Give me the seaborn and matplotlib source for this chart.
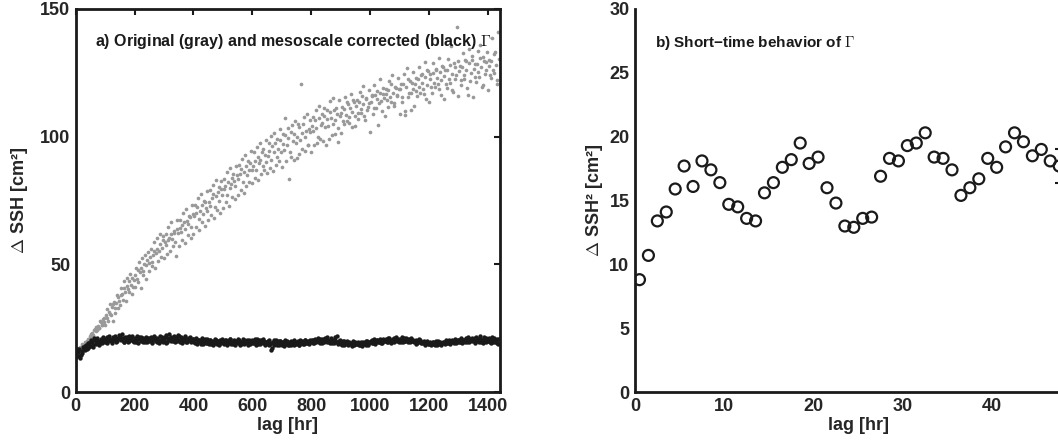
import numpy as np
import pandas as pd
import matplotlib
matplotlib.use('Agg')
from matplotlib import pyplot as plt
import seaborn as sns

# panel a: structure function at two offset lag grids
lag_long_a = np.arange(0, 1440, 5)
lag_long_b = np.arange(2.5, 1440, 5)

gamma_original_a = [
    14.5, 16.0, 16.2, 17.5, 17.0, 18.6, 19.5, 18.8, 20.6, 20.2,
    21.0, 23.2, 22.4, 24.8, 23.9, 26.0, 25.1, 27.3, 26.4, 28.9,
    26.2, 32.4, 28.0, 34.6, 30.1, 27.9, 35.2, 31.0, 37.8, 33.0,
    34.0, 40.8, 36.2, 43.5, 35.8, 44.6, 39.0, 46.2, 38.4, 41.0,
    41.0, 48.6, 43.2, 50.8, 40.6, 52.5, 46.0, 53.6, 44.3, 54.9,
    47.2, 55.9, 49.5, 58.8, 48.6, 60.4, 51.4, 62.0, 53.0, 59.6,
    52.6, 61.8, 54.0, 64.5, 55.2, 66.4, 57.0, 63.2, 53.4, 67.3,
    57.0, 67.4, 59.6, 70.2, 58.3, 71.8, 61.5, 69.0, 60.2, 73.4,
    61.8, 73.2, 64.6, 76.0, 63.5, 77.4, 66.6, 74.8, 65.0, 78.6,
    67.2, 79.0, 69.4, 81.2, 68.0, 83.0, 71.4, 80.4, 70.0, 82.6,
    72.2, 83.6, 74.5, 86.0, 73.0, 87.8, 76.4, 85.2, 75.6, 88.4,
    77.0, 89.0, 79.2, 91.4, 78.0, 93.0, 80.8, 90.4, 82.2, 94.2,
    82.0, 93.8, 84.0, 96.0, 83.2, 97.6, 85.4, 95.0, 86.8, 98.6,
    85.6, 97.5, 87.8, 100.2, 86.4, 101.6, 89.0, 99.0, 90.4, 103.0,
    88.0, 101.0, 107.5, 90.6, 103.4, 83.5, 92.2, 104.6, 91.0, 106.0,
    91.6, 104.8, 93.4, 120.5, 95.0, 107.6, 94.2, 109.0, 96.6, 106.5,
    94.0, 107.8, 96.8, 110.3, 97.4, 112.2, 99.0, 108.9, 98.2, 111.1,
    96.6, 110.6, 99.0, 113.8, 100.5, 115.0, 101.2, 111.4, 97.8, 114.4,
    101.5, 111.5, 104.8, 115.6, 106.3, 112.9, 107.6, 116.8, 103.9, 113.6,
    104.2, 114.3, 107.0, 117.5, 109.3, 119.8, 108.1, 115.0, 110.6, 118.2,
    101.8, 116.5, 108.9, 120.2, 111.4, 117.8, 113.0, 122.6, 110.2, 119.0,
    108.0, 118.6, 111.6, 121.9, 113.5, 124.0, 112.2, 119.4, 115.8, 122.8,
    109.0, 120.5, 113.4, 124.6, 110.0, 126.8, 115.6, 121.9, 117.0, 125.2,
    112.0, 122.8, 115.9, 127.4, 117.2, 124.5, 118.6, 129.2, 114.8, 126.0,
    113.5, 124.6, 117.0, 129.0, 119.4, 126.3, 120.8, 131.0, 116.4, 127.7,
    114.8, 126.0, 119.2, 130.5, 121.0, 135.6, 118.4, 128.9, 122.6, 143.0,
    116.0, 127.8, 120.4, 132.8, 122.5, 129.6, 118.9, 134.4, 121.8, 130.2,
    115.5, 128.4, 121.6, 133.6, 123.2, 136.0, 119.5, 131.2, 124.6, 129.4,
    118.4, 130.0, 122.8, 138.5, 124.9, 133.2, 120.6, 141.0,
]

gamma_original_b = [
    15.8, 15.1, 17.2, 16.4, 18.9, 17.8, 18.2, 20.1, 19.4, 21.8,
    22.6, 21.9, 24.1, 25.6, 24.4, 25.0, 27.8, 26.2, 28.4, 27.6,
    30.2, 29.0, 31.4, 30.6, 33.2, 34.5, 33.0, 34.8, 37.2, 35.5,
    37.9, 38.4, 40.6, 39.2, 41.5, 40.2, 43.4, 42.0, 44.6, 43.8,
    45.8, 44.2, 47.6, 46.9, 48.5, 47.3, 50.2, 49.6, 51.8, 50.4,
    52.8, 51.0, 53.5, 55.4, 54.6, 56.0, 55.2, 57.8, 56.5, 61.0,
    58.9, 57.6, 59.5, 60.4, 61.8, 60.0, 62.4, 58.8, 63.7, 62.1,
    64.2, 62.8, 65.4, 66.5, 63.9, 67.1, 65.9, 68.4, 64.8, 69.6,
    68.8, 70.2, 72.5, 67.6, 71.0, 73.2, 69.9, 74.6, 72.0, 70.8,
    74.5, 73.0, 75.8, 77.4, 72.6, 76.6, 78.2, 74.9, 79.6, 77.0,
    79.4, 80.8, 77.2, 82.4, 79.9, 81.5, 84.0, 82.8, 80.6, 84.9,
    83.6, 85.2, 87.4, 82.4, 86.0, 88.6, 84.8, 87.0, 89.8, 86.8,
    88.4, 90.6, 86.9, 92.2, 89.5, 91.0, 94.0, 88.6, 92.8, 90.2,
    92.6, 94.4, 90.8, 96.5, 93.8, 97.4, 92.0, 95.2, 98.6, 94.0,
    97.2, 94.6, 100.5, 96.8, 99.4, 93.8, 102.0, 98.4, 100.9, 97.5,
    99.8, 103.6, 98.5, 101.4, 104.8, 100.0, 102.4, 96.8, 103.0, 101.8,
    104.0, 102.2, 106.6, 103.5, 99.8, 107.4, 104.6, 105.2, 108.2, 103.8,
    106.8, 104.2, 109.5, 107.2, 105.0, 110.6, 106.4, 108.8, 103.5, 107.9,
    109.2, 106.0, 110.8, 108.4, 113.4, 105.4, 111.2, 109.6, 114.5, 108.0,
    112.0, 109.4, 113.6, 110.8, 116.0, 112.6, 106.5, 114.8, 111.8, 113.2,
    113.6, 115.8, 111.2, 116.4, 114.6, 104.5, 117.0, 113.9, 116.8, 115.2,
    116.6, 114.2, 118.2, 115.4, 120.6, 117.0, 113.0, 119.2, 116.4, 118.8,
    118.6, 115.5, 120.8, 108.6, 119.4, 122.4, 117.2, 110.4, 121.0, 118.8,
    120.6, 117.8, 122.4, 119.6, 124.2, 121.0, 116.8, 123.4, 120.2, 125.6,
    122.4, 119.6, 124.8, 121.2, 126.6, 123.0, 118.6, 125.2, 122.0, 127.4,
    123.8, 120.5, 126.2, 122.6, 128.0, 124.6, 117.6, 127.2, 124.0, 129.6,
    125.6, 122.2, 127.4, 124.0, 130.0, 126.2, 116.5, 128.8, 125.0, 131.6,
    126.6, 123.4, 128.6, 125.2, 131.0, 127.4, 120.4, 129.8, 126.2, 133.0,
    127.6, 124.2, 129.6, 126.0, 132.4, 128.2, 122.0, 130.6,
]

gamma_corrected_a = [
    15.2, 16.8, 14.1, 13.4, 16.0, 17.6, 16.5, 18.4, 17.2, 19.0,
    18.1, 19.6, 17.5, 20.2, 18.8, 19.9, 18.6, 20.8, 19.4, 20.5,
    19.6, 21.4, 20.1, 20.9, 19.8, 21.7, 20.4, 21.1, 19.9, 20.8,
    21.9, 20.2, 21.3, 19.7, 20.9, 21.5, 20.0, 21.2, 20.5, 19.8,
    21.0, 19.6, 20.7, 21.4, 19.9, 20.3, 21.1, 19.5, 20.6, 21.3,
    20.0, 21.6, 19.7, 20.8, 21.2, 19.6, 20.4, 21.8, 19.9, 20.7,
    20.5, 22.3, 19.6, 21.1, 20.2, 21.7, 19.8, 20.9, 21.5, 20.1,
    21.9, 19.7, 20.8, 20.1, 21.4, 19.5, 20.6, 21.0, 19.4, 20.3,
    20.7, 19.2, 21.0, 19.8, 20.4, 18.9, 20.1, 19.5, 20.6, 19.0,
    19.7, 20.5, 18.8, 19.9, 19.3, 20.4, 18.9, 19.6, 20.2, 19.1,
    19.8, 18.7, 20.3, 19.4, 19.0, 20.6, 19.2, 18.8, 20.0, 19.5,
    19.1, 20.4, 18.9, 19.7, 20.2, 19.0, 19.9, 18.6, 20.5, 19.3,
    20.1, 19.0, 19.6, 20.6, 18.8, 19.8, 20.3, 19.2, 19.9, 18.7,
    19.5, 20.2, 18.9, 16.6, 19.7, 18.5, 20.4, 19.1, 18.6, 19.8,
    18.4, 19.6, 20.3, 18.7, 19.2, 18.5, 19.9, 19.0, 18.3, 19.5,
    19.1, 20.0, 18.6, 19.4, 19.8, 18.9, 20.2, 19.3, 19.7, 20.4,
    19.6, 20.5, 19.2, 20.1, 19.9, 20.6, 19.3, 20.2, 20.8, 19.7,
    20.3, 21.6, 19.5, 20.0, 19.2, 20.4, 21.4, 19.4, 18.9, 19.9,
    19.3, 18.6, 19.8, 18.9, 19.5, 18.4, 19.6, 18.8, 19.1, 18.5,
    19.4, 18.7, 19.0, 18.3, 19.6, 18.9, 19.2, 18.6, 19.8, 19.3,
    19.6, 20.3, 19.1, 20.0, 19.4, 20.5, 19.7, 20.2, 19.3, 20.6,
    20.1, 20.8, 19.6, 21.0, 20.3, 19.8, 21.2, 20.4, 19.9, 20.7,
    20.9, 19.7, 20.5, 21.1, 19.9, 20.6, 20.2, 19.5, 20.8, 20.0,
    19.6, 20.4, 19.2, 19.9, 20.3, 19.0, 19.7, 18.8, 19.5, 19.1,
    18.7, 19.4, 18.9, 19.6, 18.5, 19.2, 19.8, 18.8, 19.3, 19.0,
    19.5, 18.9, 19.9, 19.3, 20.1, 19.6, 20.4, 19.2, 20.0, 19.7,
    20.3, 19.5, 20.8, 19.9, 20.5, 21.3, 19.4, 20.1, 20.9, 19.8,
    20.6, 19.3, 21.5, 20.2, 19.6, 21.0, 20.4, 19.1, 20.7, 21.2,
    19.8, 20.9, 19.2, 21.4, 20.1, 19.5, 20.6, 18.9,
]

gamma_corrected_b = [
    13.9, 15.6, 17.0, 14.6, 15.4, 16.9, 18.2, 17.0, 19.3, 18.0,
    20.4, 18.6, 21.0, 19.2, 21.3, 18.9, 20.1, 19.0, 21.5, 20.0,
    20.6, 19.1, 22.0, 20.3, 19.3, 20.9, 21.9, 19.5, 21.3, 22.2,
    20.7, 22.8, 19.4, 21.6, 20.4, 19.5, 22.1, 20.6, 21.8, 19.6,
    20.4, 21.9, 19.2, 20.9, 21.7, 19.4, 20.8, 21.6, 19.7, 20.2,
    21.3, 19.3, 20.6, 22.0, 19.8, 21.0, 19.2, 20.5, 21.7, 19.5,
    21.6, 19.3, 20.7, 22.6, 19.9, 20.6, 21.9, 19.4, 20.8, 22.4,
    20.2, 21.6, 19.1, 20.9, 22.0, 19.6, 20.4, 21.5, 19.8, 20.9,
    19.4, 20.9, 18.7, 20.5, 19.6, 21.2, 18.8, 20.3, 19.3, 20.8,
    18.9, 20.2, 19.5, 18.5, 20.7, 19.2, 20.0, 18.6, 19.7, 20.6,
    19.2, 20.4, 18.4, 19.8, 20.9, 18.9, 19.6, 20.3, 18.6, 19.9,
    20.6, 18.6, 19.5, 20.8, 18.7, 19.6, 20.4, 19.1, 18.8, 20.2,
    19.3, 20.8, 18.5, 19.5, 20.4, 18.9, 19.6, 20.7, 18.4, 19.4,
    20.1, 18.5, 19.3, 17.2, 20.3, 19.2, 18.3, 19.8, 20.1, 18.7,
    19.5, 18.1, 19.1, 20.0, 18.3, 19.6, 18.6, 19.4, 20.2, 18.8,
    19.6, 18.5, 20.5, 19.0, 18.7, 20.3, 19.1, 19.9, 18.8, 20.1,
    20.2, 19.0, 20.8, 19.5, 21.0, 19.4, 20.6, 19.1, 20.0, 21.1,
    19.6, 20.4, 19.0, 21.3, 19.8, 19.1, 20.3, 21.9, 19.6, 20.4,
    18.8, 19.9, 18.3, 19.4, 20.1, 18.7, 19.2, 18.2, 19.8, 19.0,
    18.9, 19.7, 18.4, 19.2, 18.1, 19.5, 18.7, 19.9, 18.5, 19.6,
    20.0, 19.2, 20.6, 18.9, 20.3, 19.5, 20.9, 19.0, 20.4, 19.8,
    20.5, 19.4, 21.3, 20.0, 19.3, 20.9, 19.7, 21.4, 20.2, 19.6,
    20.3, 21.4, 19.6, 20.1, 21.0, 19.4, 20.7, 21.2, 19.8, 20.4,
    20.1, 18.9, 19.6, 20.6, 19.0, 19.4, 20.1, 18.6, 19.8, 18.9,
    19.2, 18.4, 19.7, 18.7, 19.9, 18.6, 19.1, 19.5, 18.6, 19.7,
    19.1, 20.2, 19.0, 20.5, 18.8, 19.9, 19.4, 20.6, 19.3, 20.2,
    19.6, 21.0, 19.2, 20.4, 19.5, 20.2, 21.6, 19.7, 20.3, 21.1,
    19.8, 21.1, 19.9, 20.8, 21.8, 19.4, 20.3, 21.6, 19.6, 20.0,
    21.2, 19.4, 20.4, 19.7, 21.1, 20.0, 19.3, 20.7,
]

# panel b: first two days, hourly
lag_short = np.arange(0.5, 48, 1.0)
gamma_short = [
    8.8, 10.7, 13.4, 14.1, 15.9, 17.7, 16.1, 18.1, 17.4, 16.4,
    14.7, 14.5, 13.6, 13.4, 15.6, 16.4, 17.6, 18.2, 19.5, 17.9,
    18.4, 16.0, 14.8, 13.0, 12.9, 13.6, 13.7, 16.9, 18.3, 18.1,
    19.3, 19.5, 20.3, 18.4, 18.3, 17.4, 15.4, 16.0, 16.7, 18.3,
    17.6, 19.2, 20.3, 19.6, 18.5, 19.0, 18.1, 17.7,
]
err_lag = 47.5
err_mid = 17.7
err_half = 1.35

df_orig = pd.DataFrame({
    'lag': np.concatenate([lag_long_a, lag_long_b]),
    'gamma': gamma_original_a + gamma_original_b,
})
df_corr = pd.DataFrame({
    'lag': np.concatenate([lag_long_a, lag_long_b]),
    'gamma': gamma_corrected_a + gamma_corrected_b,
})
df_b = pd.DataFrame({'lag': lag_short, 'gamma': gamma_short})

sns.set_theme(style='white')
plt.rcParams['font.family'] = ['Liberation Sans', 'DejaVu Sans']
plt.rcParams['font.weight'] = 'bold'
plt.rcParams['axes.labelweight'] = 'bold'
plt.rcParams['mathtext.fontset'] = 'cm'
plt.rcParams['axes.edgecolor'] = '#1a1a1a'
plt.rcParams['text.color'] = '#1a1a1a'

fig = plt.figure(figsize=(10.58, 4.43), dpi=100)
ax1 = fig.add_axes([0.0716, 0.1151, 0.4006, 0.8646])
ax2 = fig.add_axes([0.6002, 0.1151, 0.4220, 0.8646])

# panel a
sns.scatterplot(data=df_orig, x='lag', y='gamma', color='#999999', s=7,
                linewidth=0, ax=ax1, legend=False)
sns.scatterplot(data=df_corr, x='lag', y='gamma', color='#1a1a1a', s=10,
                linewidth=0, ax=ax1, legend=False)
ax1.set_xlim(0, 1440)
ax1.set_ylim(0, 150)
ax1.set_xticks(range(0, 1401, 200))
ax1.set_yticks([0, 50, 100, 150])
ax1.set_xlabel('lag [hr]', fontsize=13, labelpad=2)
ax1.set_ylabel(r'$\Delta$ SSH [cm²]', fontsize=13, labelpad=7)
ax1.tick_params(direction='in', length=4, width=1.5, labelsize=13,
                top=True, right=True, pad=4, color='#1a1a1a')
for sp in ax1.spines.values():
    sp.set_linewidth(2)
ax1.text(0.0455, 0.914, r'a) Original (gray) and mesoscale corrected (black) $\Gamma$',
         transform=ax1.transAxes, fontsize=11.5, va='center', ha='left')

# panel b
sns.scatterplot(data=df_b, x='lag', y='gamma', marker='o', s=62,
                facecolor='none', edgecolor='#1a1a1a', linewidth=1.6,
                ax=ax2, legend=False)
ax2.errorbar(err_lag, err_mid, yerr=err_half, fmt='none', ecolor='#1a1a1a',
             elinewidth=1.5, capsize=3, capthick=1.5)
ax2.set_xlim(0, 50)
ax2.set_ylim(0, 30)
ax2.set_xticks(range(0, 41, 10))
ax2.set_yticks(range(0, 31, 5))
ax2.set_xlabel('lag [hr]', fontsize=13, labelpad=2)
ax2.set_ylabel(r'$\Delta$ SSH² [cm²]', fontsize=13, labelpad=3)
ax2.tick_params(direction='in', length=4, width=1.5, labelsize=13,
                pad=4, color='#1a1a1a')
ax2.spines['top'].set_visible(False)
ax2.spines['right'].set_visible(False)
for sp in ['left', 'bottom']:
    ax2.spines[sp].set_linewidth(2)
ax2.text(0.0448, 0.911, r'b) Short−time behavior of $\Gamma$',
         transform=ax2.transAxes, fontsize=11, va='center', ha='left')

fig.savefig('out.png', dpi=100)
